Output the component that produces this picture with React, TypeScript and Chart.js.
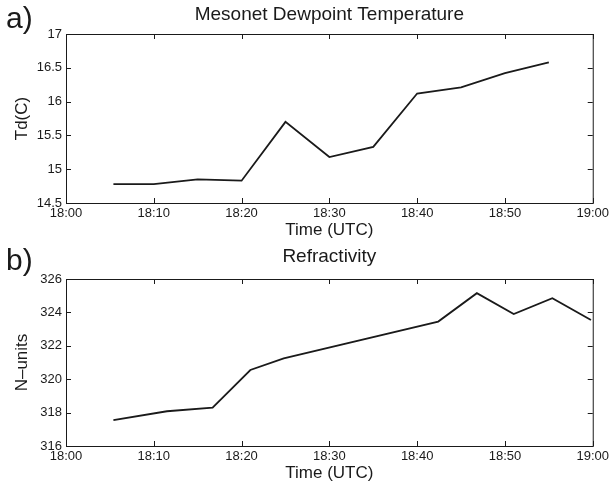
import React, { useEffect, useRef } from "react";
import { Chart, registerables } from "chart.js";
Chart.register(...registerables);

const timeTicks = ["18:00", "18:10", "18:20", "18:30", "18:40", "18:50", "19:00"];

// minutes after 18:00
const dewMinutes = [5.4, 10, 15, 20, 25, 30, 35, 40, 45, 50, 55];
const dewValues = [14.78, 14.78, 14.85, 14.83, 15.7, 15.18, 15.33, 16.12, 16.21, 16.42, 16.58];
const dewTicks = ["14.5", "15", "15.5", "16", "16.5", "17"];

const refMinutes = [5.4, 11.5, 16.7, 21.0, 24.8, 42.4, 46.8, 51.0, 55.4, 59.8];
const refValues = [317.55, 318.08, 318.3, 320.55, 321.25, 323.45, 325.15, 323.9, 324.85, 323.55];
const refTicks = ["316", "318", "320", "322", "324", "326"];

const FONT = "'Liberation Sans', Arial, Helvetica, sans-serif";
const INK = "#1a1a1a";

function framePlugin(panel: string, title: string) {
  return {
    id: "frame_" + panel,
    afterDraw(chart: any) {
      const { ctx, chartArea } = chart;
      const { left, right, top, bottom } = chartArea;
      const xs = chart.scales.x;
      const ys = chart.scales.y;
      ctx.save();
      ctx.strokeStyle = INK;
      ctx.lineWidth = 1;
      ctx.strokeRect(left + 0.5, top + 0.5, right - left, bottom - top);
      const tl = 5;
      ctx.beginPath();
      xs.ticks.forEach((t: any) => {
        const px = Math.round(xs.getPixelForValue(t.value)) + 0.5;
        ctx.moveTo(px, bottom);
        ctx.lineTo(px, bottom - tl);
        ctx.moveTo(px, top);
        ctx.lineTo(px, top + tl);
      });
      ys.ticks.forEach((t: any) => {
        const py = Math.round(ys.getPixelForValue(t.value)) + 0.5;
        ctx.moveTo(left, py);
        ctx.lineTo(left + tl, py);
        ctx.moveTo(right, py);
        ctx.lineTo(right - tl, py);
      });
      ctx.stroke();
      ctx.fillStyle = INK;
      ctx.textBaseline = "middle";
      ctx.textAlign = "left";
      ctx.font = `30px ${FONT}`;
      ctx.fillText(panel, 6, 20);
      ctx.textAlign = "center";
      ctx.font = `19px ${FONT}`;
      ctx.fillText(title, (left + right) / 2, 15);
      ctx.restore();
    },
  };
}

function makeConfig(
  minutes: number[],
  values: number[],
  yTicks: string[],
  yMin: number,
  yMax: number,
  yStep: number,
  yTitle: string,
  panel: string,
  title: string,
  topPad: number,
  xAxisH: number,
  xTitlePad: number
): any {
  return {
    type: "line",
    data: {
      datasets: [
        {
          data: minutes.map((m, i) => ({ x: m, y: values[i] })),
          borderColor: INK,
          borderWidth: 1.8,
          pointRadius: 0,
          tension: 0,
          fill: false,
        },
      ],
    },
    options: {
      animation: false,
      responsive: false,
      maintainAspectRatio: false,
      layout: { padding: { left: 0, right: 16, top: topPad, bottom: 0 } },
      plugins: { legend: { display: false }, tooltip: { enabled: false }, title: { display: false } },
      scales: {
        x: {
          type: "linear",
          min: 0,
          max: 60,
          ticks: {
            stepSize: 10,
            autoSkip: false,
            maxRotation: 0,
            padding: 3,
            color: INK,
            font: { family: FONT, size: 13 },
            callback: (_v: any, i: number) => timeTicks[i],
          },
          grid: { display: false, drawTicks: false },
          border: { display: false },
          title: {
            display: true,
            text: "Time (UTC)",
            color: INK,
            font: { family: FONT, size: 17 },
            padding: { top: 0, bottom: xTitlePad },
          },
          afterFit: (s: any) => {
            s.height = xAxisH;
          },
        },
        y: {
          type: "linear",
          min: yMin,
          max: yMax,
          ticks: {
            stepSize: yStep,
            padding: 4,
            color: INK,
            font: { family: FONT, size: 13 },
            callback: (_v: any, i: number) => yTicks[i],
          },
          grid: { display: false, drawTicks: false },
          border: { display: false },
          title: {
            display: true,
            text: yTitle,
            color: INK,
            font: { family: FONT, size: 17 },
            padding: { top: 12, bottom: 0 },
          },
          afterFit: (s: any) => {
            s.width = 66;
          },
        },
      },
    },
    plugins: [framePlugin(panel, title)],
  };
}

export default function App() {
  const refA = useRef<HTMLCanvasElement>(null);
  const refB = useRef<HTMLCanvasElement>(null);
  useEffect(() => {
    const a = new Chart(
      refA.current as HTMLCanvasElement,
      makeConfig(dewMinutes, dewValues, dewTicks, 14.5, 17, 0.5, "Td(C)", "a)", "Mesonet Dewpoint Temperature", 34, 39, 1)
    );
    const b = new Chart(
      refB.current as HTMLCanvasElement,
      makeConfig(refMinutes, refValues, refTicks, 316, 326, 2, "N\u2013units", "b)", "Refractivity", 37, 38, 0)
    );
    return () => {
      a.destroy();
      b.destroy();
    };
  }, []);
  return (
    <div style={{ position: "absolute", left: 0, top: 0, width: 612, height: 484, background: "#fff" }}>
      <canvas ref={refA} width={612} height={242} style={{ display: "block", width: 612, height: 242 }} />
      <canvas ref={refB} width={612} height={242} style={{ display: "block", width: 612, height: 242 }} />
    </div>
  );
}
